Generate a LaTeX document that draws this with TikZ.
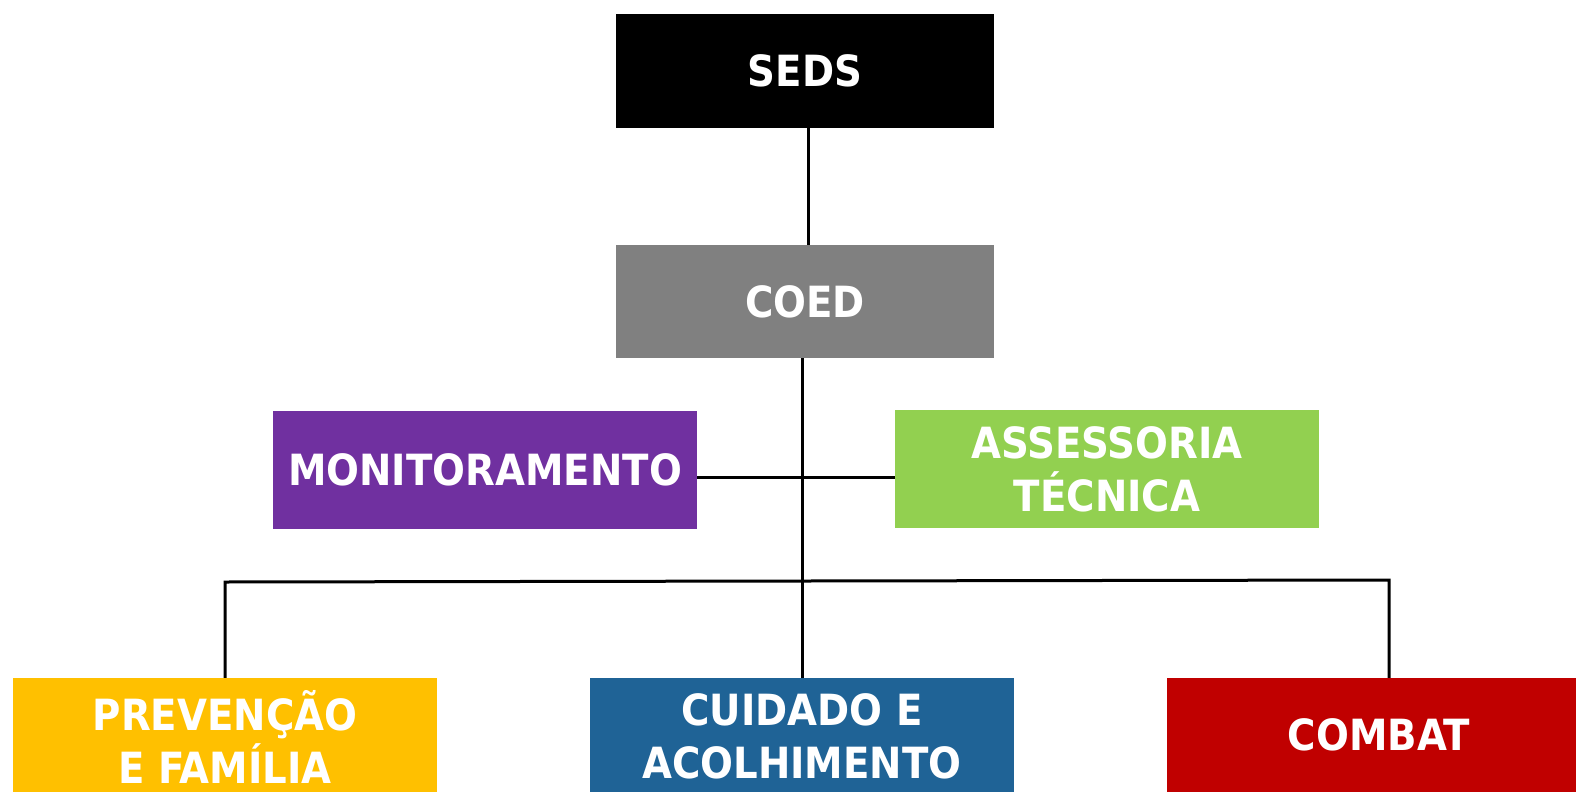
\documentclass[tikz,border=0pt]{standalone}
\usepackage{fontspec}
\setmainfont{DejaVu Sans Condensed}
\begin{document}
\begin{tikzpicture}[x=1pt,y=-1pt,
  orgfont/.style={text=white,align=center,font=\bfseries\fontsize{43}{53}\selectfont},
  orgbox/.style={rectangle,draw=none,minimum width=424pt,minimum height=114pt,inner sep=0pt,orgfont},
  boxtext/.style={orgfont,inner sep=0pt,yshift=-1.5pt},
  conn/.style={draw=black,line width=3pt}]
\definecolor{cgrey}{HTML}{808080}
\definecolor{cpurple}{HTML}{7030A0}
\definecolor{cgreen}{HTML}{92D050}
\definecolor{cyellow}{HTML}{FFC000}
\definecolor{cblue}{HTML}{1F6396}
\definecolor{cred}{HTML}{C00000}
\useasboundingbox (0,0) rectangle (1576,792);
\clip (0,0) rectangle (1576,792);
\node[orgbox,fill=black,minimum width=378pt,minimum height=114pt] (seds) at (805,71) {SEDS};
\node[orgbox,fill=cgrey,minimum width=378pt,minimum height=113pt] (coed) at (805,301.5) {COED};
\node[orgbox,fill=cpurple,minimum height=118pt] (mon) at (485,470) {MONITORAMENTO};
\node[orgbox,fill=cgreen,minimum height=118pt] (ass) at (1107,469) {ASSESSORIA\\TÉCNICA};
\node[orgbox,fill=cyellow,label={[boxtext]center:{PREVENÇÃO\\E FAMÍLIA}}] (prev) at (225,735) {};
\node[orgbox,fill=cblue,label={[boxtext]center:{CUIDADO E\\ACOLHIMENTO}}] (cuid) at (802,735) {};
\node[orgbox,fill=cred] (comb) at (1379,735) {COMBAT};
\coordinate (busL) at (225,582);
\coordinate (busR) at (1389,580);
\draw[conn] ([xshift=3pt]seds.south) -- ([xshift=3pt]coed.north);
\draw[conn] ([xshift=-3pt]coed.south) -- (cuid.north);
\draw[conn] (mon.east |- 0,477) -- (ass.west |- 0,477);
\draw[conn] (prev.north) -- (busL) -- (busR) -- (busR |- comb.north);
\end{tikzpicture}
\end{document}
